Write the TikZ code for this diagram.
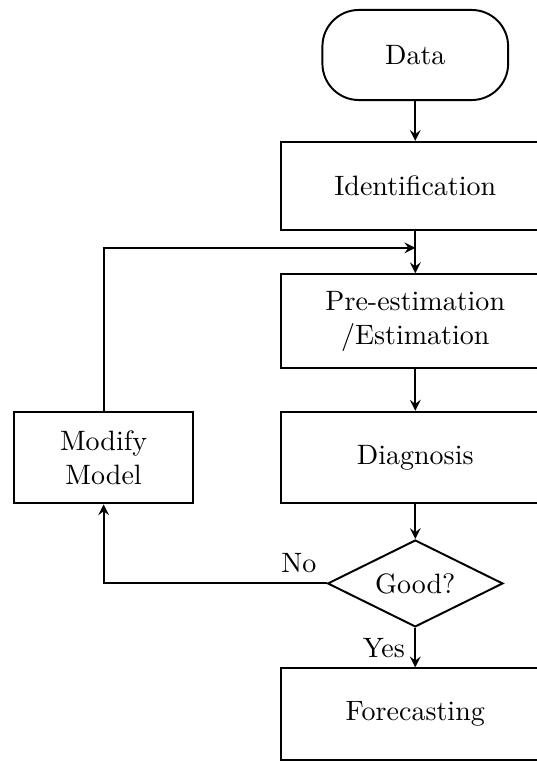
\documentclass[tikz,border=0pt]{standalone}
\usetikzlibrary{shapes}
\usetikzlibrary{arrows}

\begin{document}
\begin{tikzpicture}
				\tikzstyle{block}=[rectangle,draw,line width=0.7pt,align=center,minimum width=3.36cm,minimum height=1.15cm]
				\tikzstyle{term}=[rectangle,draw,line width=0.7pt,rounded corners=13pt,minimum width=2.33cm,minimum height=1.13cm]
				\tikzstyle{decide}=[diamond,draw,line width=0.7pt,aspect=2,inner sep=0pt,minimum width=2.2cm,minimum height=1.09cm]
				\tikzstyle{flow}=[->,>=stealth,line width=0.7pt]
				\useasboundingbox (0,0) rectangle (6.73,-9.56);
				
				\node[term] (data) at (5.21,-0.69) {Data};
				\node[block,minimum height=1.10cm] (ident) at (5.21,-2.33) {Identification};
				\node[block,minimum height=1.18cm] (est) at (5.21,-4.03) {Pre-estimation\\/Estimation};
				\node[block] (diag) at (5.21,-5.74) {Diagnosis};
				\node[block,minimum width=2.25cm] (modify) at (1.30,-5.74) {Modify\\Model};
				\node[decide] (good) at (5.21,-7.32) {Good?};
				\node[block] (fore) at (5.21,-8.96) {Forecasting};
				\coordinate (join) at (5.21,-3.11);
				
				\draw[flow] (data) -- (ident);
				\draw[flow] (ident) -- (est);
				\draw[flow] (modify.north) |- (join);
				\draw[flow] (est) -- (diag);
				\draw[flow] (diag) -- (good);
				\draw[flow] (good.south) -- node[pos=0,below left] (yes) {Yes} (fore);
				\draw[flow] (good.west) -| node[pos=0,above left] (no) {No} (modify.south);
				
				;\end{tikzpicture}
\end{document}
